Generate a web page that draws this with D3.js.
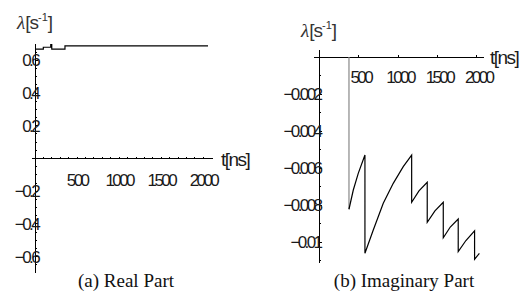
<!DOCTYPE html>
<html>
<head>
<meta charset="utf-8">
<script src="https://cdn.jsdelivr.net/npm/d3@7"></script>
<style>
  body { margin: 0; background: #fff; }
  .num { font-family: "Liberation Sans", sans-serif; font-size: 17px; letter-spacing: -2.6px; fill: #1a1a1a; }
  .cap { font-family: "Liberation Serif", serif; font-size: 19px; fill: #111; }
</style>
</head>
<body>
<script>

var width = 526,
  height = 300;

// real part: time [ns] and lambda [1/s]
var realT = [0, 99, 99, 187, 187, 199, 199, 356, 356, 2055];
var realV = [0.669, 0.669, 0.680, 0.680, 0.696, 0.696, 0.669, 0.669, 0.688, 0.688];

// imaginary part
var imagT = [376, 376, 431, 494, 579, 579, 685, 812, 939, 1066, 1173, 1173, 1266, 1371, 1371,
  1469, 1575, 1575, 1664, 1765, 1765, 1863, 1973, 1973, 2034];
var imagV = [0, -0.00823, -0.00719, -0.00629, -0.0053, -0.01061, -0.00935, -0.00791, -0.00683,
  -0.00593, -0.0053, -0.00785, -0.00724, -0.00677, -0.00894, -0.00832, -0.00785, -0.00977,
  -0.00919, -0.00876, -0.01052, -0.00992, -0.0094, -0.01094, -0.01061];

var xTicks = [500, 1000, 1500, 2000];
var realYTicks = [0.6, 0.4, 0.2, -0.2, -0.4, -0.6];
var realYLabels = ["0.6", "0.4", "0.2", "\u22120.2", "\u22120.4", "\u22120.6"];
var imagYTicks = [-0.002, -0.004, -0.006, -0.008, -0.01];
var imagYLabels = ["\u22120.002", "\u22120.004", "\u22120.006", "\u22120.008", "\u22120.01"];

var svg = d3.select("body").append("svg")
  .attr("width", width)
  .attr("height", height);

var xL = d3.scaleLinear().domain([0, 2000]).range([35, 203.4]);
var yL = d3.scaleLinear().domain([-0.7, 0.7]).range([273, 44]);
var xR = d3.scaleLinear().domain([0, 2000]).range([319.4, 476.7]);
var yR = d3.scaleLinear().domain([-0.011, 0]).range([260.5, 57]);

function hline(g, x1, x2, y) {
  g.append("line").attr("x1", x1).attr("x2", x2).attr("y1", y).attr("y2", y)
    .attr("stroke", "#000").attr("shape-rendering", "crispEdges");
}
function vline(g, x, y1, y2, col) {
  g.append("line").attr("x1", x).attr("x2", x).attr("y1", y1).attr("y2", y2)
    .attr("stroke", col || "#000").attr("shape-rendering", "crispEdges");
}

function lambdaLabel(x, y) {
  var t = svg.append("text").attr("x", x).attr("y", y).attr("fill", "#333");
  t.append("tspan").attr("font-family", "Liberation Serif").attr("font-style", "italic")
    .attr("font-size", 19).text("\u03bb");
  t.append("tspan").attr("font-family", "Liberation Sans").attr("font-size", 19)
    .style("letter-spacing", "-1px").text("[s");
  t.append("tspan").attr("font-family", "Liberation Sans").attr("font-size", 11)
    .attr("dy", -8).text("-1");
  t.append("tspan").attr("font-family", "Liberation Sans").attr("font-size", 19)
    .attr("dy", 8).text("]");
}

// ---- (a) real part ----
var gA = svg.append("g");
hline(gA, xL(-38), xL(2115), yL(0));
vline(gA, xL(0), yL(0.7), yL(-0.7));

gA.selectAll(".xt").data(d3.range(100, 2001, 100)).enter().append("line")
  .attr("x1", function(d){return xL(d)}).attr("x2", function(d){return xL(d)})
  .attr("y1", yL(0)).attr("y2", yL(0) - 2)
  .attr("stroke", "#000").attr("shape-rendering", "crispEdges");

gA.selectAll(".yt").data(d3.range(-0.65, 0.66, 0.05)).enter().append("line")
  .attr("x1", xL(0)).attr("x2", function(d){return xL(0) + (Math.abs(Math.round(d*100)) % 20 == 0 ? 3 : 2)})
  .attr("y1", function(d){return yL(d)}).attr("y2", function(d){return yL(d)})
  .attr("stroke", "#000").attr("shape-rendering", "crispEdges");

gA.selectAll(".xl").data(xTicks).enter().append("text")
  .attr("class", "num").attr("text-anchor", "middle")
  .attr("x", function(d){return xL(d)}).attr("y", yL(0) + 27)
  .text(function(d){return d});

gA.selectAll(".yl").data(realYTicks).enter().append("text")
  .attr("class", "num").attr("text-anchor", "end")
  .attr("x", xL(0) + 3).attr("y", function(d){return yL(d) + 6})
  .text(function(d, i){return realYLabels[i]});

var lineA = d3.line()
  .x(function(d){return xL(d)})
  .y(function(d, i){return yL(realV[i])});
gA.append("path").attr("d", lineA(realT))
  .attr("fill", "none").attr("stroke", "#000").attr("stroke-width", 1.2);

gA.append("text").attr("class", "num").style("letter-spacing", "-1.5px").style("font-size", "19px")
  .attr("x", 221).attr("y", yL(0) + 7).text("t[ns]");
lambdaLabel(17, 29);

svg.append("text").attr("class", "cap").attr("text-anchor", "middle")
  .attr("x", 126).attr("y", 287).text("(a) Real Part");

// ---- (b) imaginary part ----
var gB = svg.append("g");
hline(gB, xR(-72), xR(2090), yR(0));
vline(gB, xR(0), yR(0.0004), yR(-0.01114));

gB.selectAll(".xt").data(xTicks).enter().append("line")
  .attr("x1", function(d){return xR(d)}).attr("x2", function(d){return xR(d)})
  .attr("y1", yR(0)).attr("y2", yR(0) - 2)
  .attr("stroke", "#000").attr("shape-rendering", "crispEdges");

gB.selectAll(".yt").data(d3.range(1, 12)).enter().append("line")
  .attr("x1", xR(0)).attr("x2", function(d){return xR(0) + (d % 2 == 0 ? 3 : 2)})
  .attr("y1", function(d){return yR(-d / 1000)}).attr("y2", function(d){return yR(-d / 1000)})
  .attr("stroke", "#000").attr("shape-rendering", "crispEdges");

gB.selectAll(".xl").data(xTicks).enter().append("text")
  .attr("class", "num").attr("text-anchor", "middle")
  .attr("x", function(d){return xR(d) + 2}).attr("y", yR(0) + 26)
  .text(function(d){return d});

gB.selectAll(".yl").data(imagYTicks).enter().append("text")
  .attr("class", "num").attr("text-anchor", "end")
  .attr("x", xR(0) + 1).attr("y", function(d){return yR(d) + 6})
  .text(function(d, i){return imagYLabels[i]});

// first jump drawn gray, the rest dark
var idx = imagT.map(function(t, i){return i});
var lineB = d3.line()
  .x(function(i){return xR(imagT[i])})
  .y(function(i){return yR(imagV[i])});
gB.append("path").attr("d", lineB(idx.slice(0, 2)))
  .attr("fill", "none").attr("stroke", "#888").attr("stroke-width", 1.2);
gB.append("path").attr("d", lineB(idx.slice(1)))
  .attr("fill", "none").attr("stroke", "#000").attr("stroke-width", 1.2);

gB.append("text").attr("class", "num").style("letter-spacing", "-1.5px").style("font-size", "19px")
  .attr("x", 490).attr("y", 64).text("t[ns]");
lambdaLabel(301, 37);

svg.append("text").attr("class", "cap").attr("text-anchor", "middle")
  .attr("x", 404).attr("y", 287).text("(b) Imaginary Part");

</script>
</body>
</html>
